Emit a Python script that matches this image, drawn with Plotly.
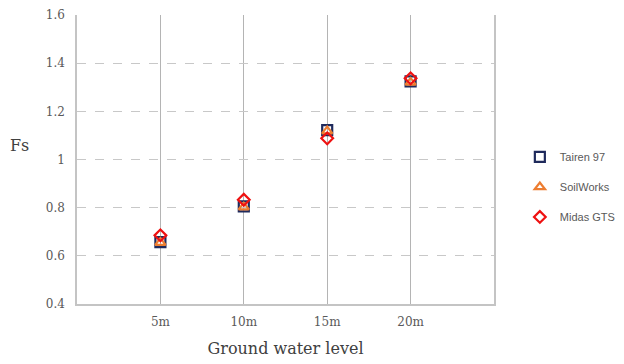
import plotly.graph_objects as go

levels = [5, 10, 15, 20]
tick_labels = ["5m", "10m", "15m", "20m"]
tairen = [0.657, 0.805, 1.122, 1.324]
soilworks = [0.655, 0.802, 1.118, 1.320]
midas = [0.685, 0.833, 1.088, 1.337]

fig = go.Figure()
fig.add_trace(go.Scatter(x=levels, y=tairen, mode="markers", name="Tairen 97", legendgroup="a",
                         marker=dict(symbol="square-open", size=10, color="#1f2a5c", line=dict(width=2.2))))
fig.add_trace(go.Scatter(x=levels, y=soilworks, mode="markers", name="SoilWorks", legendgroup="b",
                         marker=dict(symbol="triangle-up-open", size=9, color="#ed7d31", line=dict(width=2.2))))
fig.add_trace(go.Scatter(x=levels, y=midas, mode="markers", name="Midas GTS", legendgroup="c",
                         marker=dict(symbol="diamond-open", size=9, color="#ee1111", line=dict(width=2.2))))

fig.update_layout(
    width=616, height=356,
    margin=dict(l=69, r=130, t=7, b=60, autoexpand=False),
    paper_bgcolor="white", plot_bgcolor="white",
    showlegend=True,
    legend=dict(x=1.062, y=0.405, xanchor="left", yanchor="middle",
                font=dict(family="Liberation Sans", size=11, color="#595959"),
                tracegroupgap=11, itemwidth=30),
    xaxis=dict(range=[0, 25], tickvals=levels, ticktext=tick_labels,
               showgrid=True, gridcolor="#b4b4b4", gridwidth=1.2,
               showline=True, linecolor="#c4c4c4", linewidth=1.5,
               zeroline=False, ticks="", automargin=False, ticklabelstandoff=6,
               tickfont=dict(family="DejaVu Serif", size=12, color="#595959"),
               title=dict(text="Ground water level", standoff=15,
                          font=dict(family="DejaVu Serif", size=16, color="#404040"))),
    yaxis=dict(range=[0.4, 1.6], dtick=0.2, tickformat="~g",
               showgrid=True, gridcolor="#c8c8c8", griddash="dash", gridwidth=1.2,
               showline=True, mirror=True, linecolor="#c4c4c4", linewidth=1.5,
               zeroline=False, ticks="", automargin=False, ticklabelstandoff=8,
               tickfont=dict(family="DejaVu Serif", size=12, color="#595959")),
    annotations=[dict(text="Fs", xref="paper", yref="paper", x=-0.11, y=0.55,
                      xanchor="right", yanchor="middle", showarrow=False,
                      font=dict(family="DejaVu Serif", size=16, color="#404040"))],
)

fig.write_html("out.html")
